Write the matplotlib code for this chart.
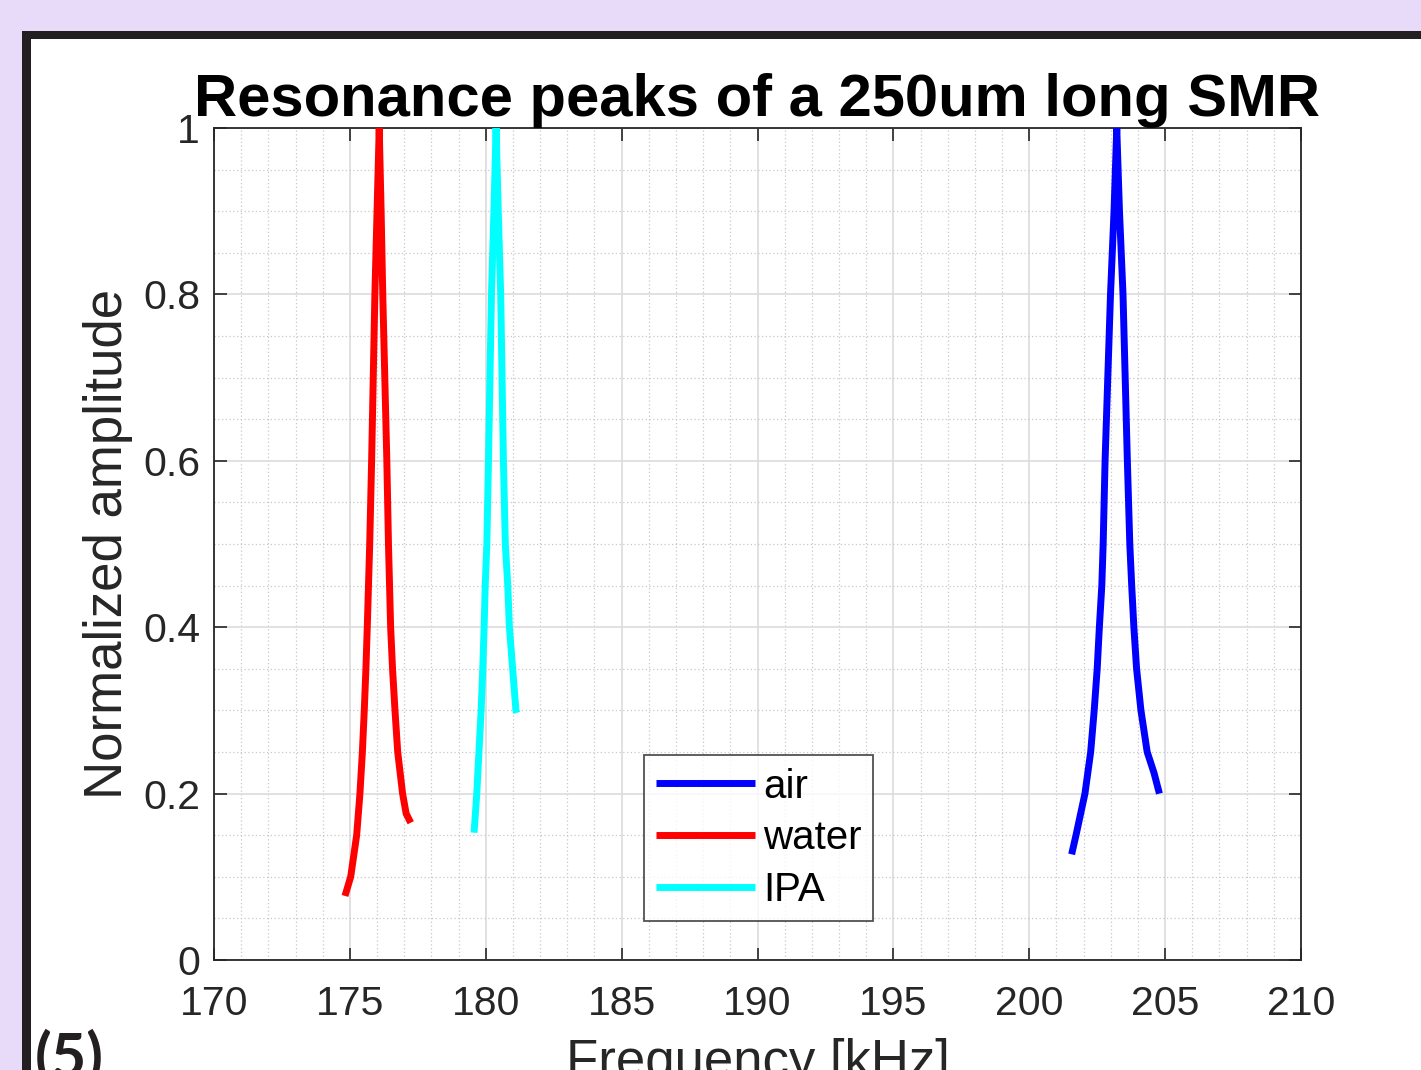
import matplotlib
matplotlib.use("Agg")
import matplotlib.pyplot as plt
from matplotlib.patches import Rectangle
from matplotlib.ticker import MultipleLocator

# ---- data ----
air_f = [201.56, 201.72, 202.05, 202.26, 202.39, 202.50, 202.58, 202.67, 202.72, 202.79,
         202.99, 203.12, 203.22, 203.32, 203.45, 203.61, 203.70, 203.77, 203.85,
         203.95, 204.11, 204.34, 204.59, 204.79]
air_a = [0.127, 0.15, 0.20, 0.25, 0.30, 0.35, 0.40, 0.45, 0.50, 0.60,
         0.80, 0.90, 1.00, 0.90, 0.80, 0.60, 0.50, 0.45, 0.40,
         0.35, 0.30, 0.25, 0.225, 0.20]

water_f = [174.82, 175.03, 175.25, 175.37, 175.46, 175.53, 175.59, 175.64, 175.73, 175.80,
           175.92, 176.00, 176.08, 176.15, 176.21, 176.36, 176.42, 176.50, 176.57,
           176.66, 176.76, 176.94, 177.07, 177.24]
water_a = [0.077, 0.10, 0.15, 0.20, 0.25, 0.30, 0.35, 0.40, 0.50, 0.60,
           0.80, 0.90, 1.00, 0.90, 0.80, 0.60, 0.50, 0.40, 0.35,
           0.30, 0.25, 0.20, 0.176, 0.165]

ipa_f = [179.57, 179.67, 179.75, 179.83, 179.89, 179.94, 179.98, 180.04, 180.10,
         180.21, 180.30, 180.38, 180.46, 180.55, 180.65, 180.72, 180.81, 180.87,
         180.99, 181.11, 181.14]
ipa_a = [0.153, 0.20, 0.25, 0.30, 0.35, 0.40, 0.45, 0.50, 0.60,
         0.80, 0.90, 1.00, 0.90, 0.80, 0.60, 0.50, 0.45, 0.40,
         0.35, 0.30, 0.297]

series_names = ["air", "water", "IPA"]
series_colors = ["#0000FF", "#FF0000", "#00FFFF"]

x_ticks = [170, 175, 180, 185, 190, 195, 200, 205, 210]
y_ticks = [0, 0.2, 0.4, 0.6, 0.8, 1.0]
y_tick_labels = ["0", "0.2", "0.4", "0.6", "0.8", "1"]

title = "Resonance peaks of a 250um long SMR"
xlabel = "Frequency [kHz]"
ylabel = "Normalized amplitude"
panel_label = "(5)"

# ---- figure ----
W, H = 1421, 1070
fig = plt.figure(figsize=(W / 100, H / 100), dpi=100)
fig.patch.set_facecolor("#E8DAF9")

def px(x0, y0, x1, y1):
    return (x0 / W, 1 - y1 / H), (x1 - x0) / W, (y1 - y0) / H

xy, w, h = px(22, 31, W + 20, H + 20)
fig.patches.append(Rectangle(xy, w, h, transform=fig.transFigure,
                             facecolor="#231F20", edgecolor="none", zorder=-2))
xy, w, h = px(31, 39, W + 20, H + 20)
fig.patches.append(Rectangle(xy, w, h, transform=fig.transFigure,
                             facecolor="white", edgecolor="none", zorder=-1))

ax = fig.add_axes([214 / W, 1 - 960 / H, (1301 - 214) / W, (960 - 128) / H])
ax.set_zorder(2)
ax.set_facecolor("white")

for f, a, name, c in zip([air_f, water_f, ipa_f], [air_a, water_a, ipa_a],
                         series_names, series_colors):
    ax.plot(f, a, color=c, lw=5, label=name, solid_joinstyle="round",
            solid_capstyle="butt", zorder=3)

ax.set_xlim(170, 210)
ax.set_ylim(0, 1)
ax.set_xticks(x_ticks)
ax.set_yticks(y_ticks)
ax.set_yticklabels(y_tick_labels)
ax.xaxis.set_minor_locator(MultipleLocator(1))
ax.yaxis.set_minor_locator(MultipleLocator(0.05))

fam = ["Liberation Sans", "DejaVu Sans"]
tc = "#262626"
ax.tick_params(axis="both", which="major", direction="in", length=9, width=1.2,
               top=True, right=True, labelsize=29.5, colors=tc)
ax.tick_params(axis="x", which="major", pad=18)
ax.tick_params(axis="y", which="major", pad=10)
ax.tick_params(axis="both", which="minor", direction="in", length=0,
               top=True, right=True)
for lab in ax.get_xticklabels() + ax.get_yticklabels():
    lab.set_fontfamily(fam)
    lab.set_color(tc)

ax.grid(True, which="major", color="#DCDCDC", lw=1.2, ls="-", zorder=0)
ax.grid(True, which="minor", color="#C8C8C8", lw=0.9, ls=(0, (1, 2)), zorder=0)
ax.set_axisbelow(True)
for s in ax.spines.values():
    s.set_color(tc)
    s.set_linewidth(1.3)

ax.set_title(title, fontsize=43, fontweight="bold", family=fam, pad=8, color="black")
ax.set_ylabel(ylabel, fontsize=38, family=fam, color=tc, labelpad=7)
ax.set_xlabel(xlabel, fontsize=38, family=fam, color=tc, labelpad=11)

leg = ax.legend(loc="lower left", bbox_to_anchor=((644 - 214) / 1087, (960 - 921) / 832),
                prop={"family": fam, "size": 29}, frameon=True, fancybox=False,
                handlelength=2.45, handletextpad=0.2, borderpad=0.3,
                labelspacing=0.34, borderaxespad=0)
leg.get_frame().set_edgecolor(tc)
leg.get_frame().set_linewidth(1.3)
for line in leg.get_lines():
    line.set_linewidth(5)

fig.text(35 / W, 1 - 1076 / H, panel_label, fontsize=44, fontweight="bold",
         family=["Lato", "Open Sans", "DejaVu Sans"], color="#231F20",
         va="baseline", ha="left", zorder=3)

fig.savefig("out.png", dpi=100, facecolor=fig.get_facecolor())
